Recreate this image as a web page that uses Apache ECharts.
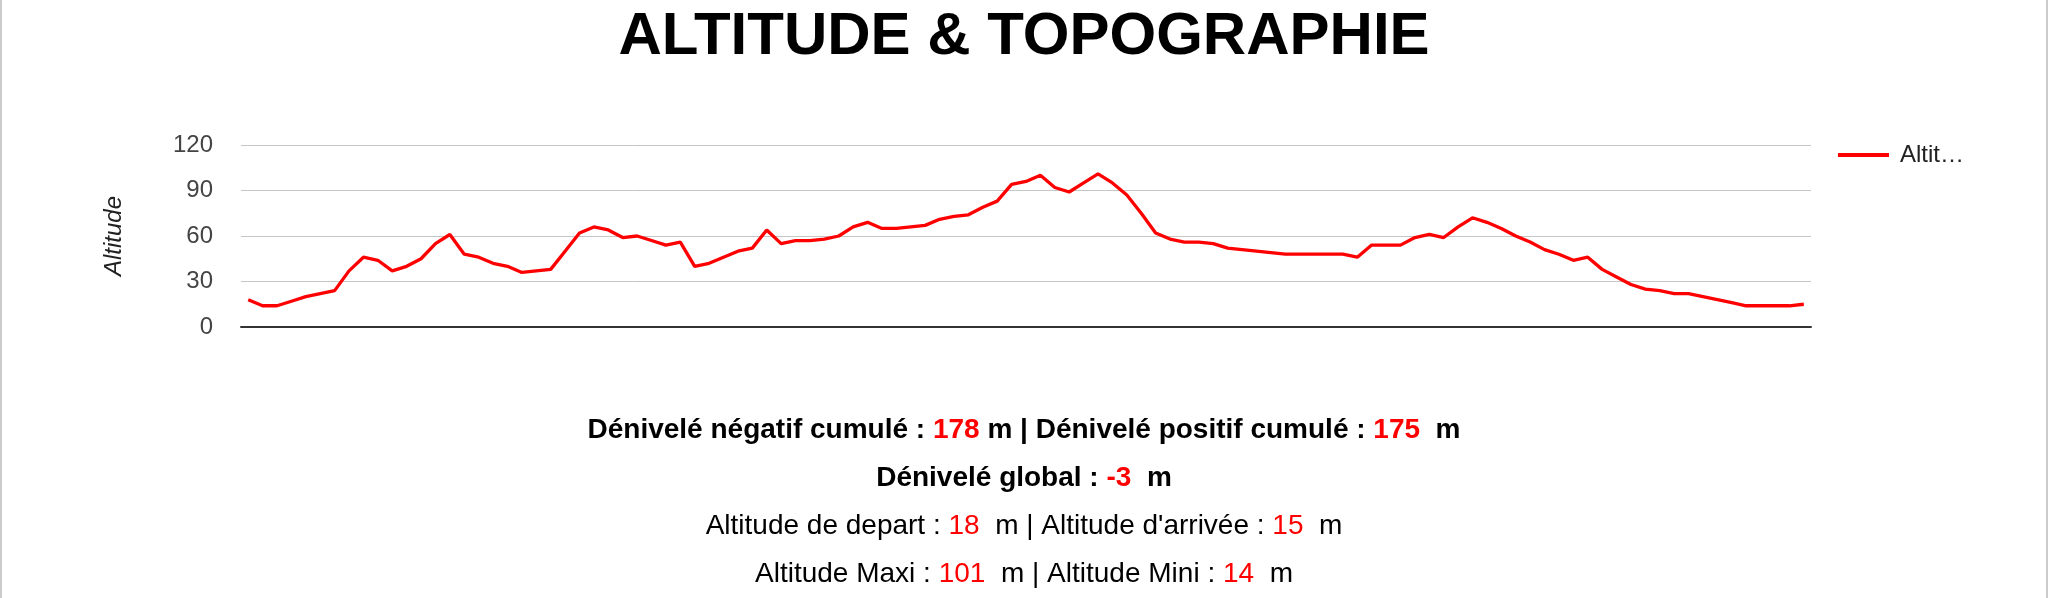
<!DOCTYPE html>
<html>
<head>
<meta charset="utf-8">
<script src="https://cdn.jsdelivr.net/npm/echarts@6.0.0/dist/echarts.min.js"></script>
<style>
  html, body { margin: 0; padding: 0; background: #fff; }
  .wrap { position: relative; width: 2048px; height: 598px; }
  .chart { width: 2048px; height: 598px; }
  .frame {
    position: absolute; left: 0; top: 0; width: 2048px; height: 598px;
    box-sizing: border-box; border-left: 2px solid #ccc; border-right: 2px solid #ccc;
    pointer-events: none;
  }
</style>
</head>
<body>
<div class="wrap">
  <div class="chart" id="lineChart"></div>
  <div class="frame"></div>
</div>
<script>
// altitude profile (m), one value per track point
const altitudes = [
  18, 14, 14, 17, 20, 22, 24, 37, 46, 44,
  37, 40, 45, 55, 61, 48, 46, 42, 40, 36,
  37, 38, 50, 62, 66, 64, 59, 60, 57, 54,
  56, 40, 42, 46, 50, 52, 64, 55, 57, 57,
  58, 60, 66, 69, 65, 65, 66, 67, 71, 73,
  74, 79, 83, 94, 96, 100, 92, 89, 95, 101,
  95, 87, 75, 62, 58, 56, 56, 55, 52, 51,
  50, 49, 48, 48, 48, 48, 48, 46, 54, 54,
  54, 59, 61, 59, 66, 72, 69, 65, 60, 56,
  51, 48, 44, 46, 38, 33, 28, 25, 24, 22,
  22, 20, 18, 16, 14, 14, 14, 14, 15
];
const points = altitudes.map((_, i) => i + 1);
const yTicks = [0, 30, 60, 90, 120];

const seriesName = 'Altitude';
const titleText = 'ALTITUDE & TOPOGRAPHIE';

// summary numbers shown under the chart
const denivNeg = 178;
const denivPos = 175;
const denivGlobal = -3;
const altDepart = 18;
const altArrivee = 15;
const altMaxi = 101;
const altMini = 14;

const RED = '#ff0000';
const FONT = '"Liberation Sans", Arial, Helvetica, sans-serif';

const infoLine = (text, top, bold) => ({
  text: text,
  left: 'center',
  top: top,
  padding: 0,
  textStyle: {
    rich: {
      t: { fontFamily: FONT, fontSize: 28, fontWeight: bold ? 'bold' : 'normal', color: '#000', lineHeight: 34 },
      r: { fontFamily: FONT, fontSize: 28, fontWeight: bold ? 'bold' : 'normal', color: RED, lineHeight: 34 }
    }
  }
});

const setOptions = {
  animation: false,
  title: [
    {
      text: titleText,
      left: 'center',
      top: 7,
      padding: 0,
      textStyle: { fontFamily: FONT, fontSize: 60, fontWeight: 'bold', color: '#000', lineHeight: 60 }
    },
    infoLine('{t|Dénivelé négatif cumulé : }{r|' + denivNeg + '}{t| m | Dénivelé positif cumulé : }{r|' + denivPos + '}{t|  m}', 413, true),
    infoLine('{t|Dénivelé global : }{r|' + denivGlobal + '}{t|  m}', 461, true),
    infoLine('{t|Altitude de depart : }{r|' + altDepart + '}{t|  m | Altitude d\'arrivée : }{r|' + altArrivee + '}{t|  m}', 509, false),
    infoLine('{t|Altitude Maxi : }{r|' + altMaxi + '}{t|  m | Altitude Mini : }{r|' + altMini + '}{t|  m}', 557, false)
  ],
  legend: {
    left: 1838,
    top: 143,
    padding: 0,
    icon: 'rect',
    itemWidth: 51,
    itemHeight: 4,
    data: [seriesName],
    textStyle: {
      fontFamily: FONT,
      fontSize: 24,
      color: '#222',
      width: 70,
      overflow: 'truncate',
      ellipsis: '…',
      padding: [0, 0, 0, 6]
    }
  },
  grid: {
    left: 241,
    right: 237,
    top: 145,
    bottom: 271
  },
  xAxis: {
    type: 'category',
    data: points,
    boundaryGap: true,
    axisLine: { lineStyle: { color: '#333', width: 2 } },
    axisTick: { show: false },
    axisLabel: { show: false },
    splitLine: { show: false }
  },
  yAxis: {
    type: 'value',
    min: yTicks[0],
    max: yTicks[yTicks.length - 1],
    interval: yTicks[1] - yTicks[0],
    name: seriesName,
    nameLocation: 'middle',
    nameGap: 115,
    nameTextStyle: { fontFamily: FONT, fontSize: 24, fontStyle: 'italic', color: '#222' },
    axisLine: { show: false },
    axisTick: { show: false },
    axisLabel: { fontFamily: FONT, fontSize: 24, color: '#444', margin: 28 },
    splitLine: { lineStyle: { color: '#c6c6c6', width: 1 } }
  },
  series: [
    {
      name: seriesName,
      type: 'line',
      data: altitudes,
      symbol: 'none',
      itemStyle: { color: RED },
      lineStyle: { color: RED, width: 3.3 }
    }
  ]
};

let myChart = null;
const initChart = () => {
  myChart = echarts.init(document.getElementById('lineChart'));
  myChart.setOption(setOptions);
};

initChart();
</script>
</body>
</html>
